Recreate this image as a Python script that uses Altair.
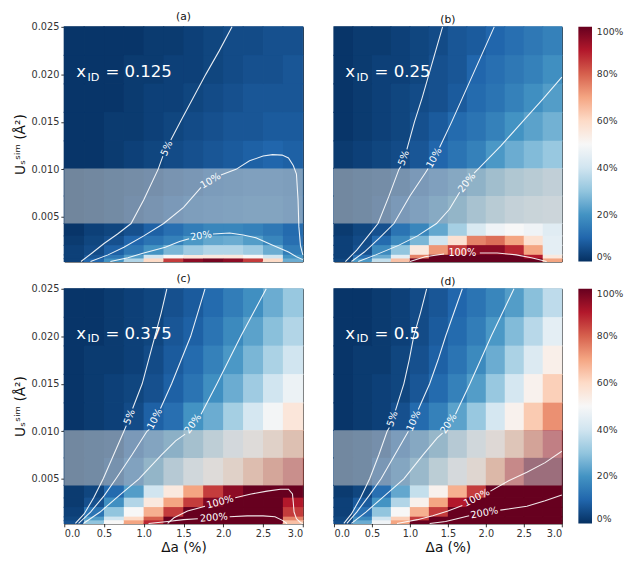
import altair as alt
import pandas as pd

# ---------------- data ----------------
DA_EDGES = [0.0, 0.25, 0.5, 0.75, 1.0, 1.25, 1.5, 1.75, 2.0, 2.25, 2.5, 2.75, 3.0]
# bottom -> top
U_EDGES = [0.0003, 0.0006, 0.001, 0.002, 0.003, 0.0043, 0.0072, 0.0101,
           0.013, 0.016, 0.019, 0.022, 0.025]
BAND = [0.0043, 0.0101]

# cell values in %, rows listed from TOP to BOTTOM
VAL_A = [
    [1, 1, 1, 1, 2, 2, 3, 4, 5, 5, 6, 6],
    [1, 1, 1, 2, 2, 3, 3, 4, 5, 6, 6, 7],
    [1, 1, 1, 2, 3, 3, 4, 5, 6, 7, 7, 7],
    [1, 1, 2, 2, 3, 4, 5, 6, 7, 7, 8, 8],
    [1, 1, 2, 3, 4, 5, 6, 7, 8, 9, 10, 9],
    [1, 2, 3, 4, 5, 7, 8, 10, 11, 12, 12, 11],
    [1, 2, 3, 5, 7, 9, 11, 12, 13, 14, 14, 12],
    [1, 3, 4, 6, 9, 12, 15, 17, 17, 16, 14, 11],
    [2, 4, 6, 10, 13, 16, 21, 24, 25, 22, 17, 12],
    [3, 5, 9, 14, 20, 27, 32, 35, 35, 32, 25, 15],
    [3, 7, 14, 22, 40, 50, 55, 55, 55, 50, 40, 20],
    [3, 10, 20, 35, 60, 85, 95, 98, 95, 85, 60, 25],
]
VAL_B = [
    [1, 2, 2, 3, 4, 5, 7, 8, 10, 12, 14, 16],
    [1, 2, 3, 3, 4, 6, 7, 10, 12, 14, 16, 19],
    [1, 2, 3, 4, 5, 6, 8, 11, 13, 16, 19, 22],
    [1, 2, 3, 4, 6, 8, 11, 13, 16, 20, 23, 26],
    [2, 3, 4, 5, 7, 10, 13, 16, 21, 25, 28, 31],
    [2, 3, 4, 6, 9, 12, 16, 21, 26, 30, 33, 36],
    [2, 3, 5, 9, 12, 17, 22, 28, 33, 37, 39, 40],
    [2, 4, 6, 13, 17, 24, 33, 42, 48, 50, 48, 44],
    [3, 5, 11, 18, 27, 40, 58, 75, 78, 70, 58, 45],
    [3, 6, 18, 30, 55, 72, 85, 95, 95, 88, 70, 45],
    [3, 12, 25, 45, 75, 105, 115, 120, 120, 110, 90, 55],
    [4, 21, 38, 65, 100, 115, 125, 130, 130, 120, 100, 70],
]
VAL_C = [
    [1, 1, 2, 3, 4, 6, 8, 11, 15, 19, 25, 31],
    [1, 1, 2, 3, 4, 7, 9, 13, 18, 23, 29, 35],
    [1, 2, 2, 3, 5, 8, 11, 16, 21, 27, 34, 40],
    [1, 2, 3, 4, 6, 9, 13, 19, 25, 32, 40, 47],
    [1, 2, 3, 5, 9, 12, 20, 25, 33, 41, 49, 56],
    [2, 3, 4, 9, 14, 20, 27, 35, 44, 52, 60, 67],
    [2, 3, 6, 13, 22, 32, 42, 52, 60, 68, 76, 83],
    [2, 4, 11, 22, 40, 55, 70, 85, 95, 100, 110, 100],
    [2, 6, 19, 35, 55, 70, 85, 97, 115, 125, 130, 90],
    [3, 13, 30, 50, 68, 85, 102, 125, 145, 150, 150, 85],
    [4, 22, 40, 60, 80, 105, 170, 210, 220, 220, 210, 75],
    [6, 30, 50, 70, 88, 120, 180, 230, 260, 260, 230, 65],
]
VAL_D = [
    [1, 1, 2, 3, 5, 7, 10, 13, 17, 22, 29, 37],
    [1, 1, 2, 3, 5, 8, 11, 15, 21, 28, 36, 45],
    [1, 2, 2, 4, 6, 9, 13, 18, 25, 34, 43, 53],
    [1, 2, 3, 4, 7, 11, 16, 22, 31, 41, 52, 62],
    [1, 2, 3, 6, 11, 16, 23, 31, 41, 52, 63, 73],
    [2, 3, 5, 10, 16, 23, 32, 42, 54, 65, 77, 88],
    [2, 3, 8, 15, 24, 34, 45, 56, 70, 85, 102, 120],
    [2, 4, 12, 24, 38, 52, 68, 85, 105, 125, 150, 175],
    [3, 8, 20, 35, 52, 70, 90, 110, 135, 160, 185, 210],
    [3, 12, 30, 50, 68, 85, 105, 150, 200, 240, 270, 300],
    [4, 18, 40, 62, 85, 120, 170, 230, 290, 340, 380, 400],
    [5, 25, 48, 70, 100, 150, 210, 280, 350, 400, 450, 500],
]

# contour lines (Δa, U), split where the in-line label sits
CONT_A = {
    "5%": [[(0.21, 0.0003), (0.35, 0.0012), (0.5, 0.0022), (0.67, 0.0032), (0.84, 0.0043),
            (1.0, 0.0068), (1.18, 0.0100), (1.24, 0.0114)],
           [(1.34, 0.0131), (1.46, 0.015), (1.62, 0.0175), (1.78, 0.020), (1.95, 0.0225), (2.11, 0.025)]],
    "10%": [[(0.33, 0.0003), (0.55, 0.001), (0.75, 0.0018), (1.0, 0.003), (1.25, 0.0043),
             (1.5, 0.006), (1.72, 0.0081)],
            [(1.97, 0.0094), (2.16, 0.0100), (2.33, 0.0109), (2.5, 0.0114), (2.62, 0.01155),
             (2.74, 0.0115), (2.82, 0.0112), (2.88, 0.0104), (2.92, 0.0095), (2.94, 0.0068),
             (2.95, 0.004), (2.97, 0.002), (3.0, 0.001)]],
    "20%": [[(0.58, 0.0003), (0.8, 0.0007), (1.0, 0.0012), (1.27, 0.0018), (1.45, 0.0024), (1.57, 0.0027)],
            [(1.87, 0.0032), (2.08, 0.0033), (2.25, 0.0031), (2.41, 0.0028), (2.6, 0.0021),
             (2.82, 0.0013), (2.92, 0.0008), (3.0, 0.0005)]],
}
CONT_B = {
    "5%": [[(0.15, 0.0003), (0.3, 0.0015), (0.45, 0.003), (0.58, 0.0043), (0.72, 0.0071),
            (0.855, 0.0100), (0.88, 0.0103)],
           [(0.96, 0.0121), (1.06, 0.015), (1.16, 0.0175), (1.25, 0.020), (1.34, 0.0225), (1.43, 0.025)]],
    "10%": [[(0.23, 0.0003), (0.4, 0.0013), (0.6, 0.0028), (0.79, 0.0043), (1.0, 0.0072),
             (1.2, 0.0096), (1.24, 0.0101)],
            [(1.39, 0.0123), (1.55, 0.015), (1.69, 0.0175), (1.83, 0.020), (1.97, 0.0225), (2.11, 0.025)]],
    "20%": [[(0.32, 0.0003), (0.55, 0.001), (0.85, 0.002), (1.1, 0.003), (1.35, 0.0043),
             (1.52, 0.0058), (1.655, 0.0076)],
            [(1.845, 0.0096), (1.92, 0.0102), (2.2, 0.0125), (2.48, 0.015), (2.75, 0.0174), (3.0, 0.0197)]],
    "100%": [[(1.0, 0.0003), (1.2, 0.0008), (1.45, 0.0011)],
             [(1.92, 0.0012), (2.15, 0.0012), (2.4, 0.001), (2.6, 0.0007), (2.8, 0.0003)]],
}
CONT_C = {
    "5%": [[(0.14, 0.0003), (0.25, 0.0013), (0.37, 0.003), (0.49, 0.005), (0.62, 0.0075),
            (0.75, 0.0100), (0.78, 0.0106)],
           [(0.86, 0.0124), (0.98, 0.015), (1.06, 0.0175), (1.14, 0.020), (1.22, 0.0225), (1.29, 0.025)]],
    "10%": [[(0.18, 0.0003), (0.33, 0.0015), (0.5, 0.0032), (0.65, 0.005), (0.85, 0.0075),
             (1.04, 0.0100), (1.07, 0.0102)],
            [(1.21, 0.0124), (1.35, 0.015), (1.47, 0.0175), (1.59, 0.020), (1.68, 0.0225), (1.77, 0.025)]],
    "20%": [[(0.24, 0.0003), (0.45, 0.0015), (0.7, 0.0033), (0.94, 0.005), (1.22, 0.0075),
             (1.40, 0.0090), (1.52, 0.0097)],
            [(1.72, 0.0118), (1.92, 0.015), (2.07, 0.0175), (2.22, 0.020), (2.38, 0.0225), (2.54, 0.025)]],
    "100%": [[(1.3, 0.0003), (1.38, 0.0009), (1.55, 0.0016), (1.77, 0.0021)],
             [(2.15, 0.003), (2.35, 0.0034), (2.55, 0.0037), (2.72, 0.0039), (2.82, 0.0039),
              (2.87, 0.0034), (2.88, 0.0025), (2.89, 0.0015), (2.92, 0.0008), (2.97, 0.0004), (3.0, 0.0003)]],
    "200%": [[(1.06, 0.0003), (1.3, 0.0005), (1.5, 0.0007), (1.68, 0.0008)],
             [(2.08, 0.001), (2.3, 0.0011), (2.5, 0.0011), (2.65, 0.001), (2.75, 0.0006), (2.8, 0.0003)]],
}
CONT_D = {
    "5%": [[(0.13, 0.0003), (0.23, 0.0013), (0.35, 0.003), (0.47, 0.005), (0.59, 0.0075),
            (0.70, 0.0100), (0.73, 0.0104)],
           [(0.81, 0.0122), (0.92, 0.015), (0.99, 0.0175), (1.05, 0.020), (1.14, 0.0225), (1.22, 0.025)]],
    "10%": [[(0.17, 0.0003), (0.3, 0.0015), (0.46, 0.0032), (0.62, 0.005), (0.8, 0.0075), (0.98, 0.0100)],
            [(1.11, 0.0123), (1.26, 0.015), (1.37, 0.0175), (1.47, 0.020), (1.58, 0.0225), (1.69, 0.025)]],
    "20%": [[(0.23, 0.0003), (0.42, 0.0015), (0.68, 0.0033), (0.92, 0.005), (1.17, 0.0075),
             (1.36, 0.0093), (1.43, 0.0098)],
            [(1.60, 0.0118), (1.79, 0.015), (1.93, 0.0175), (2.07, 0.020), (2.22, 0.0225), (2.37, 0.025)]],
    "100%": [[(0.83, 0.0003), (1.1, 0.0007), (1.3, 0.0011), (1.5, 0.0016), (1.69, 0.0022)],
             [(2.06, 0.0037), (2.3, 0.0048), (2.54, 0.0057), (2.78, 0.0067), (3.0, 0.0079)]],
    "200%": [[(1.26, 0.0003), (1.47, 0.0005), (1.62, 0.0008), (1.78, 0.0011)],
             [(2.19, 0.0017), (2.54, 0.0021), (2.78, 0.0027), (3.0, 0.0033)]],
}

# in-line contour labels: text, Δa, U, angle
LAB_A = [("5%", 1.29, 0.0122, 295), ("10%", 1.84, 0.0088, 329), ("20%", 1.72, 0.0030, 352)]
LAB_B = [("5%", 0.92, 0.0112, 290), ("10%", 1.32, 0.0112, 299), ("20%", 1.75, 0.0086, 308),
         ("100%", 1.69, 0.00115, 0)]
LAB_C = [("5%", 0.82, 0.0115, 291), ("10%", 1.14, 0.0113, 297), ("20%", 1.62, 0.0108, 306),
         ("100%", 1.96, 0.00255, 345), ("200%", 1.88, 0.0009, 355)]
LAB_D = [("5%", 0.77, 0.0113, 289), ("10%", 1.05, 0.0111, 294), ("20%", 1.51, 0.0108, 303),
         ("100%", 1.88, 0.0030, 333), ("200%", 1.98, 0.0014, 349)]

PANEL_TITLES = ["(a)", "(b)", "(c)", "(d)"]
XID_VALUES = ["0.125", "0.25", "0.375", "0.5"]
XID_POS = [0.15, 0.0197]

X_TICKS = [0.0, 0.5, 1.0, 1.5, 2.0, 2.5, 3.0]
Y_TICKS = [0.005, 0.010, 0.015, 0.020, 0.025]
CBAR_TICKS = [0, 20, 40, 60, 80, 100]
CBAR_DOMAIN = [0, 10, 20, 30, 40, 50, 60, 70, 80, 90, 100]
RDBU_R = ["#053061", "#2166ac", "#4393c3", "#92c5de", "#d1e5f0", "#f7f7f7",
          "#fddbc7", "#f4a582", "#d6604d", "#b2182b", "#67001f"]

FONT = "DejaVu Sans"
PLOT_H = 241


def heat_df(vals):
    rows = []
    n = len(vals)
    for r, row in enumerate(vals):
        j = n - 1 - r
        for i, v in enumerate(row):
            rows.append(dict(x0=DA_EDGES[i], x1=DA_EDGES[i + 1],
                             y0=U_EDGES[j], y1=U_EDGES[j + 1], v=v, edge=v))
    return pd.DataFrame(rows)


def cont_df(cont):
    rows = []
    for lvl, segs in cont.items():
        for s, seg in enumerate(segs):
            for k, (x, y) in enumerate(seg):
                rows.append(dict(seg=f"{lvl}-{s}", i=k, x=x, y=y))
    return pd.DataFrame(rows)


xs = alt.Scale(domain=[DA_EDGES[0], DA_EDGES[-1]], nice=False, zero=False)
ys = alt.Scale(domain=[U_EDGES[0], U_EDGES[-1]], nice=False, zero=False)


def cscale():
    return alt.Scale(type="linear", domain=CBAR_DOMAIN, range=RDBU_R, clamp=True, interpolate="rgb")


def panel(idx, vals, cont, labs, width, show_x, show_y):
    if show_x:
        xax = alt.Axis(values=X_TICKS, format=".1f", title="Δa (%)", titlePadding=2, labelPadding=2)
    else:
        xax = None
    if show_y:
        yax = alt.Axis(values=Y_TICKS, format=".3f", title="Uₛˢⁱᵐ (Å²)", titlePadding=4, labelPadding=2)
    else:
        yax = None

    def X(f, **kw):
        return alt.X(f, type="quantitative", scale=xs, axis=xax, **kw)

    def Y(f, **kw):
        return alt.Y(f, type="quantitative", scale=ys, axis=yax, **kw)

    hd = heat_df(vals)
    heat = alt.Chart(hd).mark_rect().encode(
        x=X("x0"), x2="x1", y=Y("y0"), y2="y1",
        color=alt.Color("v:Q", scale=cscale(), legend=alt.Legend(
            type="gradient", title=None, values=CBAR_TICKS, labelExpr="datum.value + '%'",
            gradientLength=PLOT_H, gradientThickness=14, offset=14,
            labelFontSize=9.5, labelFont=FONT, labelColor="#333", labelOffset=5,
            gradientStrokeWidth=0)),
    )
    # cell outlines in the cell colour drawn under the cells, hides anti-aliasing seams
    seam = alt.Chart(hd).mark_rect(filled=False, strokeWidth=1.2).encode(
        x=X("x0"), x2="x1", y=Y("y0"), y2="y1",
        stroke=alt.Stroke("edge:Q", scale=cscale(), legend=None),
    )
    band = alt.Chart(pd.DataFrame([dict(x0=DA_EDGES[0], x1=DA_EDGES[-1], y0=BAND[0], y1=BAND[1])])).mark_rect(
        color="#c8c8c8", opacity=0.55).encode(x=X("x0"), x2="x1", y=Y("y0"), y2="y1")
    lines = alt.Chart(cont_df(cont)).mark_line(color="white", strokeWidth=1.1, opacity=0.9).encode(
        x=X("x"), y=Y("y"), detail="seg:N", order="i:Q")
    lab = alt.Chart(pd.DataFrame(labs, columns=["t", "x", "y", "a"])).mark_text(
        color="white", fontSize=10, font=FONT, align="center", baseline="middle").encode(
        x=X("x"), y=Y("y"), text="t:N", angle=alt.Angle("a:Q", scale=None))
    pos = pd.DataFrame([dict(x=XID_POS[0], y=XID_POS[1], t1="x", t2="ID", t3="= " + XID_VALUES[idx])])
    t1 = alt.Chart(pos).mark_text(color="white", fontSize=17, font=FONT, align="left",
                                  baseline="alphabetic").encode(x=X("x"), y=Y("y"), text="t1:N")
    t2 = alt.Chart(pos).mark_text(color="white", fontSize=11.5, font=FONT, align="left",
                                  baseline="alphabetic", dx=11.5, dy=3.4).encode(x=X("x"), y=Y("y"), text="t2:N")
    t3 = alt.Chart(pos).mark_text(color="white", fontSize=17, font=FONT, align="left",
                                  baseline="alphabetic", dx=30).encode(x=X("x"), y=Y("y"), text="t3:N")
    return alt.layer(seam, heat, band, lines, lab, t1, t2, t3).properties(
        width=width, height=PLOT_H,
        title=alt.TitleParams(PANEL_TITLES[idx], fontSize=11, font=FONT, fontWeight="normal", offset=0))


pa = panel(0, VAL_A, CONT_A, LAB_A, 245, False, True)
pb = panel(1, VAL_B, CONT_B, LAB_B, 234, False, False)
pc = panel(2, VAL_C, CONT_C, LAB_C, 245, True, True)
pd_ = panel(3, VAL_D, CONT_D, LAB_D, 234, True, False)

row1 = alt.hconcat(pa, pb, spacing=27)
row2 = alt.hconcat(pc, pd_, spacing=27)

chart = alt.vconcat(row1, row2, spacing=8).resolve_scale(
    color="independent"
).properties(
    padding={"left": 13, "top": 3, "right": 5, "bottom": 0}
).configure_view(stroke="black", strokeWidth=1).configure_axis(
    grid=False, domain=False, tickColor="black", tickSize=3.5, tickWidth=0.8,
    labelFontSize=10, labelColor="#333", labelFont=FONT,
    titleFontSize=14, titleFontWeight="normal", titleFont=FONT, titleColor="#111"
).configure_title(font=FONT, color="#111")

chart.save("out.html", embed_options={"renderer": "svg", "actions": False})
